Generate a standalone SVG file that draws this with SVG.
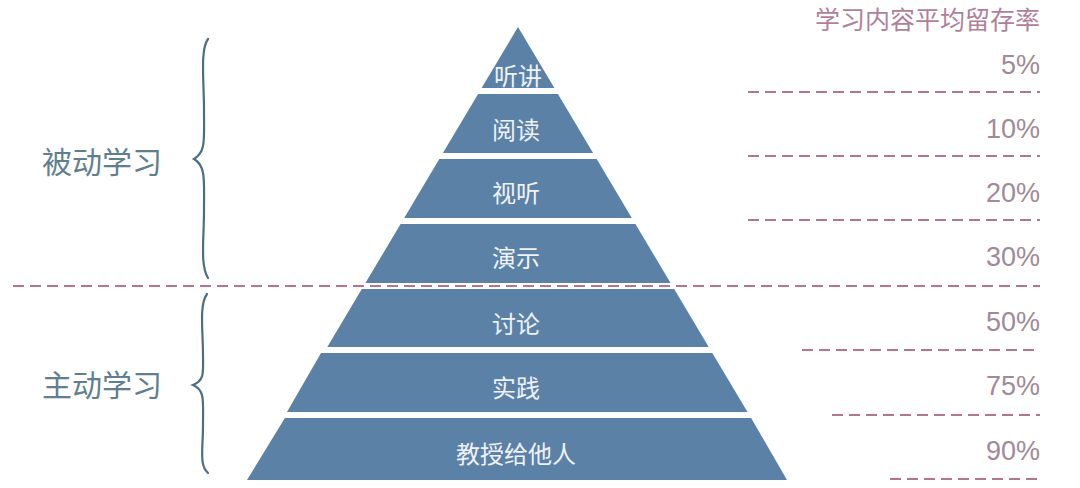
<svg xmlns="http://www.w3.org/2000/svg" width="1080" height="488" viewBox="0 0 1080 488">
<style>
.layer{fill:#5b81a7}
.lt{font-family:"Noto Sans CJK SC","Noto Sans",sans-serif;font-size:24px;fill:#eef2f6;text-anchor:middle;dominant-baseline:central}
.side{font-family:"Noto Sans CJK SC","Noto Sans",sans-serif;font-size:30px;fill:#5f7f8e;dominant-baseline:central}
.pct{font-family:"Liberation Sans","Noto Sans",sans-serif;font-size:27px;fill:#a08a97;text-anchor:end;dominant-baseline:central}
.title{font-family:"Noto Sans CJK SC","Noto Sans",sans-serif;font-size:25px;fill:#b07f9b;text-anchor:end;dominant-baseline:central}
.dash{stroke:#b57590;stroke-width:2;stroke-dasharray:11 6;fill:none}
.brace{stroke:#4d6d82;stroke-width:2.2;fill:none;stroke-linecap:round}
</style>
<rect width="1080" height="488" fill="#ffffff"/>
<g id="connectors">
<line class="dash" x1="748" y1="92" x2="1040" y2="92"/>
<line class="dash" x1="748" y1="156" x2="1040" y2="156"/>
<line class="dash" x1="748" y1="220" x2="1040" y2="220"/>
<line class="dash" x1="13" y1="286" x2="1040" y2="286"/>
<line class="dash" x1="802" y1="350" x2="1040" y2="350"/>
<line class="dash" x1="832" y1="415" x2="1040" y2="415"/>
<line class="dash" x1="890" y1="479" x2="1040" y2="479"/>
</g>
<g id="brace-passive">
<path class="brace" d="M208 39 C200 50 204 80 204 110 C204 140 206 152 194 159 C206 166 204 180 204 210 C204 240 200 265 208 278"/>
<text class="side" x="42" y="160">被动学习</text>
</g>
<g id="brace-active">
<path class="brace" d="M207 294 C199 305 203 330 203 355 C203 372 205 380 193 385 C205 390 203 400 203 425 C203 450 199 465 208 473"/>
<text class="side" x="42" y="383">主动学习</text>
</g>
<g id="layer1"><polygon class="layer" points="518,27 554.4,88 481.6,88"/><text class="lt" x="518" y="74">听讲</text></g>
<g id="layer2"><polygon class="layer" points="478.1,94 557.9,94 593.1,153 442.9,153"/><text class="lt" x="516" y="128">阅读</text></g>
<g id="layer3"><polygon class="layer" points="439.3,159 596.7,159 631.8,218 404.2,218"/><text class="lt" x="516" y="191">视听</text></g>
<g id="layer4"><polygon class="layer" points="400.6,224 635.4,224 670.6,283 365.4,283"/><text class="lt" x="516" y="256">演示</text></g>
<g id="layer5"><polygon class="layer" points="361.8,289 674.2,289 708.7,347 327.3,347"/><text class="lt" x="516" y="322">讨论</text></g>
<g id="layer6"><polygon class="layer" points="321,353 712.3,353 747.5,412 287,412"/><text class="lt" x="516" y="386">实践</text></g>
<g id="layer7"><polygon class="layer" points="284.9,418 751.1,418 787,480 247,480"/><text class="lt" x="516" y="452">教授给他人</text></g>
<g id="retention">
<text class="title" x="1040" y="18">学习内容平均留存率</text>
<text class="pct" x="1040" y="65">5%</text>
<text class="pct" x="1040" y="129">10%</text>
<text class="pct" x="1040" y="193">20%</text>
<text class="pct" x="1040" y="257">30%</text>
<text class="pct" x="1040" y="322">50%</text>
<text class="pct" x="1040" y="386">75%</text>
<text class="pct" x="1040" y="451">90%</text>
</g>
</svg>
